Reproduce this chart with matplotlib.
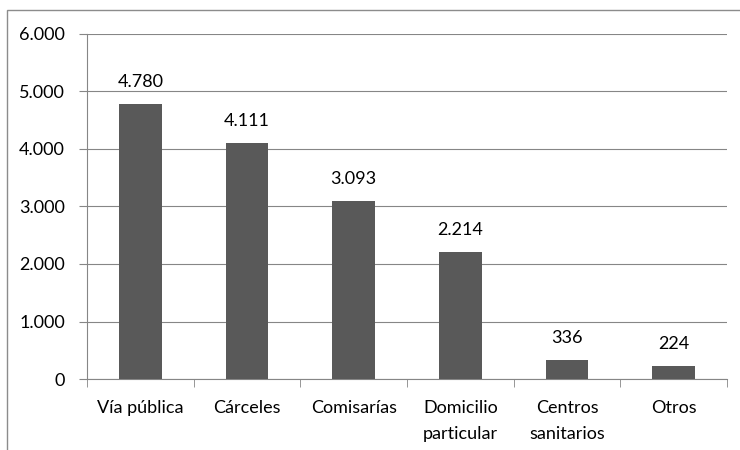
import numpy as np
import matplotlib.pyplot as plt
from matplotlib.patches import Rectangle

categorias = ["Vía pública", "Cárceles", "Comisarías", "Domicilio\nparticular",
              "Centros\nsanitarios", "Otros"]
valores = [4780, 4111, 3093, 2214, 336, 224]
yticks = [0, 1000, 2000, 3000, 4000, 5000, 6000]

plt.rcParams['font.family'] = ['Lato', 'DejaVu Sans']

def fmt_miles(v):
    return f"{int(v):,}".replace(",", ".")

fig = plt.figure(figsize=(7.4, 4.5), dpi=100)
ax = fig.add_axes([87 / 740, 1 - 379 / 450, 640 / 740, 345 / 450])

# marco exterior del grafico (recortado a la derecha y abajo)
fig.patches.append(Rectangle((7 / 740, -0.1), 1.2, 1 - 10 / 450 + 0.1,
                             transform=fig.transFigure, fill=False,
                             edgecolor='#8c8c8c', linewidth=1.0))

x = np.arange(len(categorias))
ax.bar(x, valores, width=0.4, color='#595959', zorder=3)

fs = 13
for xi, v in zip(x, valores):
    ax.annotate(fmt_miles(v), (xi, v), xytext=(0, 10), textcoords='offset points',
                ha='center', va='bottom', fontsize=fs, color='black')

ax.set_xlim(-0.5, len(categorias) - 0.5)
ax.set_ylim(0, 6000)
ax.set_yticks(yticks)
ax.set_yticklabels([fmt_miles(t) for t in yticks], fontsize=fs)
ax.set_xticks(x)
ax.set_xticklabels(categorias, fontsize=fs, linespacing=1.75)
ax.set_xticks(np.arange(-0.5, len(categorias)), minor=True)
ax.tick_params(axis='x', which='major', length=0, pad=15)
ax.tick_params(axis='x', which='minor', length=6, color='#868686', direction='out')
ax.tick_params(axis='y', length=6, color='#868686', pad=10)

ax.yaxis.grid(True, color='#868686', linewidth=0.8, zorder=0)
ax.set_axisbelow(True)
for s in ['top', 'right']:
    ax.spines[s].set_visible(False)
for s in ['left', 'bottom']:
    ax.spines[s].set_color('#868686')
    ax.spines[s].set_linewidth(0.8)

fig.savefig('out.png', dpi=100)
